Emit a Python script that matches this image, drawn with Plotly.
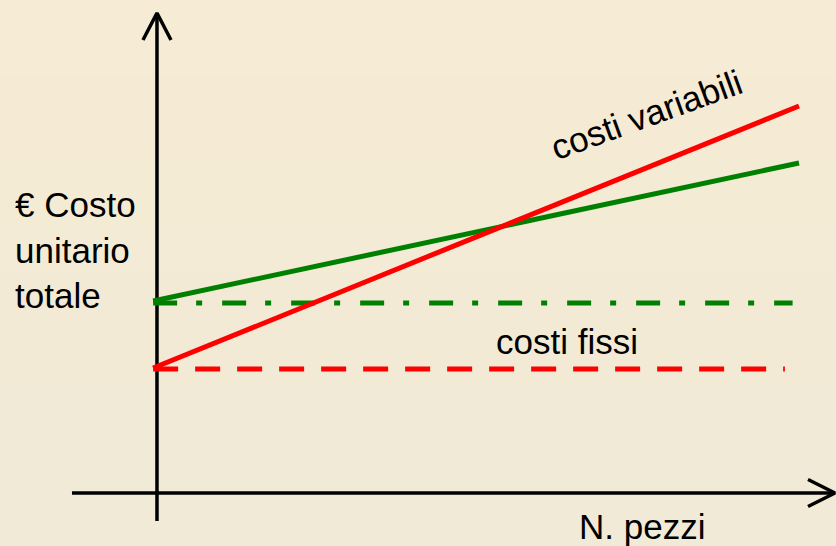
import plotly.graph_objects as go

# ---- data (x: pieces, y: unit cost, arbitrary units) ----
x_range_lines = [-0.06, 10.0]
costi_variabili = [2.5, 7.74]       # red solid line (start, end)
costo_totale = [3.84, 6.6]          # green solid line (start, end)
costi_fissi = 2.48                  # red dashed level
costo_fisso_totale = 3.8            # green dash-dot level
fissi_x_end = 9.78
totale_fissi_x_end = 9.9

labels_y = "€ Costo<br>unitario<br>totale"
label_x = "N. pezzi"
label_var = "costi variabili"
label_fix = "costi fissi"

FONT = "Liberation Sans, Arial, sans-serif"
FS = 35

fig = go.Figure()

# axes (with open arrowheads)
fig.add_trace(go.Scatter(x=[0, 0], y=[-0.56, 9.6], mode="lines",
                         line=dict(color="black", width=3.5), hoverinfo="skip"))
fig.add_trace(go.Scatter(x=[-0.218, 0, 0.218], y=[9.06, 9.6, 9.06], mode="lines",
                         line=dict(color="black", width=3.5), hoverinfo="skip"))
fig.add_trace(go.Scatter(x=[-1.324, 10.56], y=[0, 0], mode="lines",
                         line=dict(color="black", width=3.5), hoverinfo="skip"))
fig.add_trace(go.Scatter(x=[10.14, 10.56, 10.14], y=[0.27, 0, -0.27], mode="lines",
                         line=dict(color="black", width=3.5), hoverinfo="skip"))

# fixed cost levels
fig.add_trace(go.Scatter(x=[x_range_lines[0], totale_fissi_x_end],
                         y=[costo_fisso_totale, costo_fisso_totale], mode="lines",
                         line=dict(color="#008000", width=5, dash="24px,19px,6px,20px"),
                         hoverinfo="skip"))
fig.add_trace(go.Scatter(x=[x_range_lines[0], fissi_x_end],
                         y=[costi_fissi, costi_fissi], mode="lines",
                         line=dict(color="#FF0000", width=5, dash="25px,17px"),
                         hoverinfo="skip"))

# sloped lines
fig.add_trace(go.Scatter(x=x_range_lines, y=costo_totale, mode="lines",
                         line=dict(color="#008000", width=5), hoverinfo="skip"))
fig.add_trace(go.Scatter(x=x_range_lines, y=costi_variabili, mode="lines",
                         line=dict(color="#FF0000", width=5), hoverinfo="skip"))

# background gradient bands
top = (246, 235, 212)
bot = (240, 234, 214)
n = 14
shapes = []
for i in range(n):
    t = i / (n - 1)
    c = tuple(round(top[k] + (bot[k] - top[k]) * t) for k in range(3))
    shapes.append(dict(type="rect", xref="paper", yref="paper",
                       x0=0, x1=1, y0=1 - (i + 1) / n, y1=1 - i / n,
                       fillcolor="rgb(%d,%d,%d)" % c, line=dict(width=0),
                       layer="below"))

annotations = [
    dict(x=-2.243, y=4.86, text=labels_y, xanchor="left", yanchor="middle",
         align="left", showarrow=False, font=dict(size=FS, color="black", family=FONT)),
    dict(x=7.56, y=-0.66, text=label_x, xanchor="center", yanchor="middle",
         showarrow=False, font=dict(size=FS, color="black", family=FONT)),
    dict(x=6.39, y=3.04, text=label_fix, xanchor="center", yanchor="middle",
         showarrow=False, font=dict(size=FS, color="black", family=FONT)),
    dict(x=7.62, y=7.58, text=label_var, xanchor="center", yanchor="middle",
         textangle=-20, showarrow=False, font=dict(size=FS, color="black", family=FONT)),
]

fig.update_layout(
    width=836, height=546,
    margin=dict(l=0, r=0, t=0, b=0),
    paper_bgcolor="#F3EBD5", plot_bgcolor="rgba(0,0,0,0)",
    showlegend=False,
    shapes=shapes,
    annotations=annotations,
    xaxis=dict(range=[-2.445, 10.576], visible=False, fixedrange=True),
    yaxis=dict(range=[-1.06, 9.86], visible=False, fixedrange=True),
)

fig.write_html("out.html", config={"displayModeBar": False},
               post_script="document.body.style.margin='0';document.body.style.overflow='hidden';")
